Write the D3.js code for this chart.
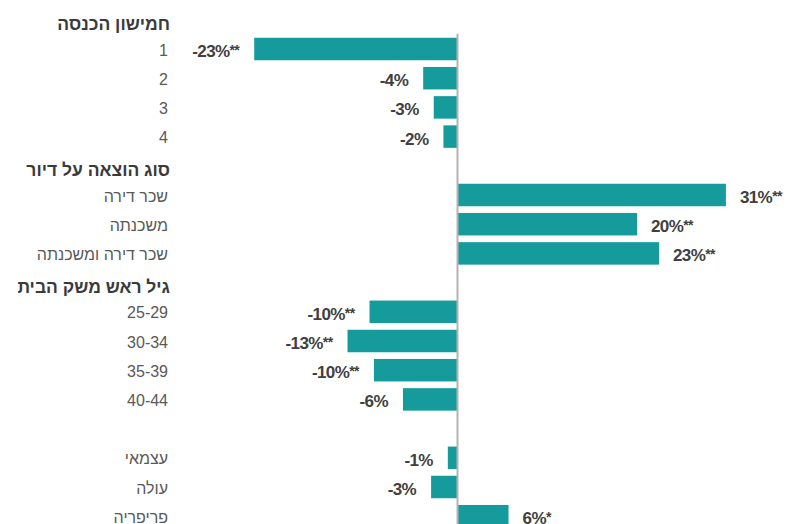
<!DOCTYPE html>
<html>
<head>
<meta charset="utf-8">
<script src="https://cdn.jsdelivr.net/npm/d3@7"></script>
<style>
  body { margin: 0; background: #fff; }
  text { font-family: "Liberation Sans", Arial, sans-serif; }
</style>
</head>
<body>
<div id="chart"></div>
<script>
var width = 787,
    height = 524;

// rows top to bottom; headers have no value
var labels = ["חמישון הכנסה", "1", "2", "3", "4",
              "סוג הוצאה על דיור", "שכר דירה", "משכנתה", "שכר דירה ומשכנתה",
              "גיל ראש משק הבית", "25-29", "30-34", "35-39", "40-44",
              "", "עצמאי", "עולה", "פריפריה"];
var isHeader = [1, 0, 0, 0, 0, 1, 0, 0, 0, 1, 0, 0, 0, 0, 0, 0, 0, 0];
var values = [null, -23.1, -3.9, -2.7, -1.6,
              null, 30.5, 20.4, 22.9,
              null, -10.0, -12.5, -9.5, -6.2,
              null, -1.1, -3.0, 5.8];
var valueText = ["", "-23%", "-4%", "-3%", "-2%",
                 "", "31%", "20%", "23%",
                 "", "-10%", "-13%", "-10%", "-6%",
                 "", "-1%", "-3%", "6%"];
var stars = ["", "**", "", "", "",
             "", "**", "**", "**",
             "", "**", "**", "**", "",
             "", "", "", "*"];

var rows = labels.map(function(d, i) {
  return { i: i, label: d, header: isHeader[i], value: values[i], text: valueText[i], stars: stars[i] };
});

var svg = d3.select("#chart")
  .append("svg")
  .attr("width", width)
  .attr("height", height);

var x = d3.scaleLinear()
  .domain([-25, 35])
  .range([237.5, 765.5]);

var y = d3.scaleBand()
  .domain(rows.map(function(d) { return d.i; }))
  .range([5.2, 5.2 + rows.length * 29.2])
  .paddingInner(0.23)
  .paddingOuter(0.115);

var mid = function(d) { return y(d.i) + y.bandwidth() / 2; };
var bars = rows.filter(function(d) { return d.value !== null; });

svg.selectAll(".bar")
  .data(bars)
  .enter().append("rect")
  .attr("class", "bar")
  .attr("x", function(d) { return x(Math.min(0, d.value)); })
  .attr("y", function(d) { return y(d.i); })
  .attr("width", function(d) { return Math.abs(x(d.value) - x(0)); })
  .attr("height", y.bandwidth())
  .attr("fill", "#169b9c");

// zero line
svg.append("line")
  .attr("x1", x(0)).attr("x2", x(0))
  .attr("y1", y(1) - 4)
  .attr("y2", height)
  .attr("stroke", "#b3b3b3")
  .attr("stroke-width", 2);

// category labels and group headers
svg.selectAll(".cat")
  .data(rows)
  .enter().append("text")
  .attr("class", "cat")
  .attr("x", function(d) { return d.header ? 170 : 168; })
  .attr("y", function(d) { return mid(d) + (d.header ? 4 : 1); })
  .attr("text-anchor", "end")
  .attr("dominant-baseline", "central")
  .attr("font-size", function(d) { return d.header ? 17.5 : 16; })
  .attr("font-weight", function(d) { return d.header ? "bold" : "normal"; })
  .attr("fill", function(d) { return d.header ? "#3a3a3a" : "#595959"; })
  .text(function(d) { return d.label; });

// value labels
var vl = svg.selectAll(".val")
  .data(bars)
  .enter().append("text")
  .attr("class", "val")
  .attr("x", function(d) { return d.value < 0 ? x(d.value) - 15 : x(d.value) + 14; })
  .attr("y", function(d) { return mid(d) + 8; })
  .attr("text-anchor", function(d) { return d.value < 0 ? "end" : "start"; })
  .attr("direction", "ltr")
  .attr("font-size", 17)
  .attr("font-weight", "bold")
  .attr("letter-spacing", -0.6)
  .attr("fill", "#404040");

vl.append("tspan")
  .text(function(d) { return d.text; });

vl.append("tspan")
  .attr("font-size", 14)
  .attr("dy", -2)
  .text(function(d) { return d.stars; });
</script>
</body>
</html>
